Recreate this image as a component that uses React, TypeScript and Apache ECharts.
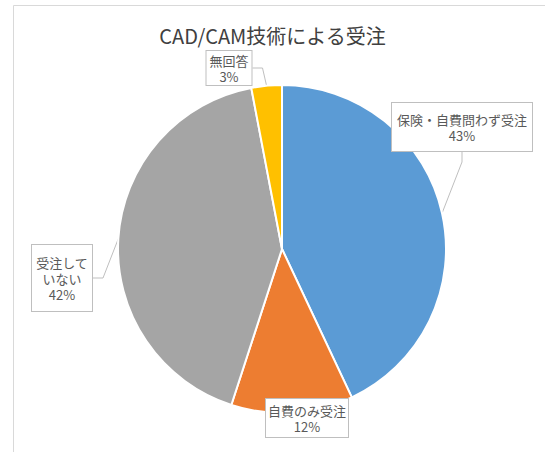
import React, { useEffect, useRef } from "react";
import * as echarts from "echarts";

const titleText = "CAD/CAM技術による受注";
const categories = ["保険・自費問わず受注", "自費のみ受注", "受注していない", "無回答"];
const labelNames = ["保険・自費問わず受注", "自費のみ受注", "受注して\nいない", "無回答"];
const values = [43, 12, 42, 3];
const colors = ["#5B9BD5", "#ED7D31", "#A5A5A5", "#FFC000"];

// label box centres, text widths and paddings (layout only)
const labelPos = [
  [462, 127],
  [307, 418],
  [62, 278],
  [229, 68],
];
const labelWidth = [130, 78, 52, 39];
const labelPad = [
  [8, 5],
  [3, 2],
  [9, 4],
  [1, 3],
];

export default function App() {
  const ref = useRef<HTMLDivElement>(null);
  useEffect(() => {
    document.body.style.margin = "0";
    const chart = echarts.init(ref.current!, null, { renderer: "svg" });
    const font = "'Noto Sans CJK JP', 'Noto Sans', sans-serif";
    chart.setOption({
      animation: false,
      backgroundColor: "#ffffff",
      title: {
        text: titleText,
        left: "center",
        top: 20,
        textStyle: { fontSize: 20, fontWeight: "normal", color: "#404040", fontFamily: font },
      },
      graphic: [
        {
          type: "polyline",
          shape: { points: [[13.5, 460], [13.5, 5.5], [560, 5.5]] },
          style: { stroke: "#d9d9d9", lineWidth: 1, fill: "none" },
          silent: true,
        },
      ],
      series: [
        {
          type: "pie",
          center: [282, 249],
          radius: 164,
          startAngle: 90,
          clockwise: true,
          itemStyle: { borderColor: "#ffffff", borderWidth: 2 },
          label: {
            show: true,
            position: "outside",
            color: "#595959",
            fontSize: 13,
            lineHeight: 16,
            fontFamily: font,
            align: "center",
            overflow: "none",
            edgeDistance: 0,
            backgroundColor: "#ffffff",
            borderColor: "#bfbfbf",
            borderWidth: 1,
          },
          labelLine: {
            show: true,
            length: 10,
            length2: 10,
            lineStyle: { color: "#bfbfbf", width: 1 },
          },
          labelLayout: (params: any) => {
            const p = labelPos[params.dataIndex];
            return { x: p[0], y: p[1], align: "center", verticalAlign: "middle" };
          },
          data: categories.map((name, i) => ({
            name,
            value: values[i],
            itemStyle: { color: colors[i] },
            label: {
              formatter: `${labelNames[i]}\n{c}%`,
              width: labelWidth[i],
              padding: labelPad[i],
            },
          })),
        },
      ],
    });
    return () => chart.dispose();
  }, []);
  return <div ref={ref} style={{ width: 545, height: 452 }} />;
}
